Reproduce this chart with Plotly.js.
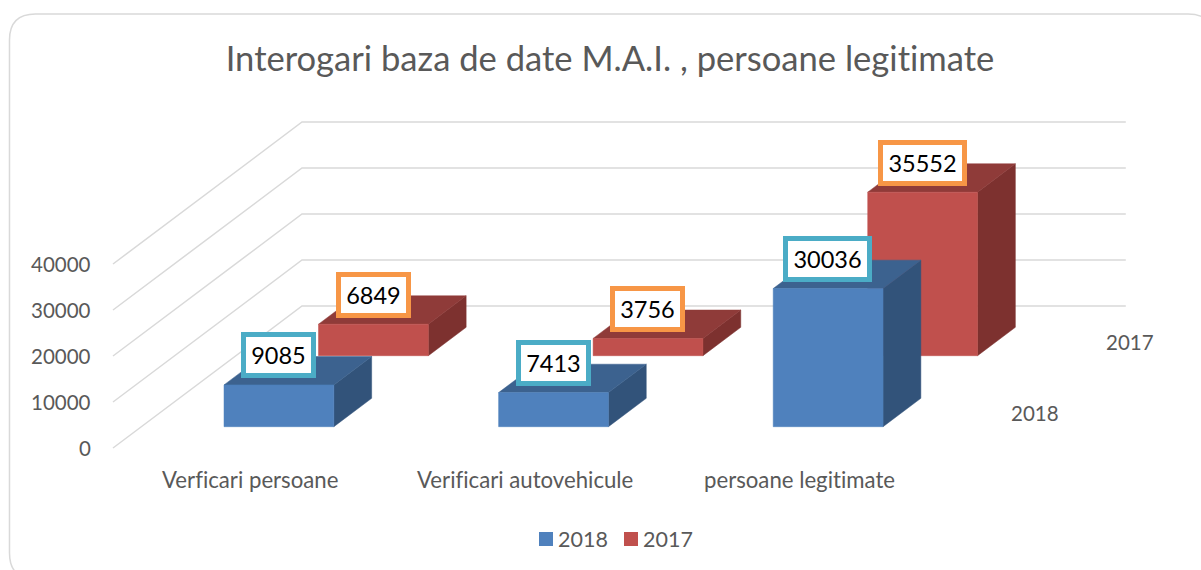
<!DOCTYPE html>
<html><head><meta charset="utf-8">
<script src="https://cdn.plot.ly/plotly-3.0.1.min.js"></script>
<style>html,body{margin:0;padding:0;background:#fff}#c{width:1201px;height:570px}svg text{font-variant-ligatures:none !important;font-feature-settings:"liga" 0,"clig" 0 !important}</style></head>
<body><div id="c"></div>
<script>
var chartTitle = 'Interogari baza de date M.A.I. , persoane legitimate';
var categories = ['Verficari persoane', 'Verificari autovehicule', 'persoane legitimate'];
var seriesNames = ['2018', '2017'];
var values2018 = [9085, 7413, 30036];
var values2017 = [6849, 3756, 35552];
var yTicks = [0, 10000, 20000, 30000, 40000];

// oblique projection, expressed in axis units
var DEPTH_X = 0.6883, DEPTH_Y = 30870, BAR_W = 0.4;
var ROW = [[0.15, 0.35], [0.65, 0.85]];
var ROW_MID = [0.25, 0.75];
function px(cat, d) { return cat + d * DEPTH_X; }
function py(v, d) { return v + d * DEPTH_Y; }

var FONT = 'Lato, Carlito, sans-serif';
var GREY = '#595959';
var traces = [];

// gridlines: side wall + back wall
var gx = [], gy = [];
yTicks.forEach(function (t) {
  gx.push(px(0, 0), px(0, 1), px(3, 1), null);
  gy.push(py(t, 0), py(t, 1), py(t, 1), null);
});
traces.push({x: gx, y: gy, mode: 'lines', line: {color: '#D9D9D9', width: 1.5}, hoverinfo: 'skip', showlegend: false});

function addFace(poly, color, name) {
  traces.push({x: poly.x, y: poly.y, mode: 'lines', fill: 'toself', fillcolor: color,
    line: {color: color, width: 0.5}, hoverinfo: 'skip', showlegend: false, name: name});
}
function addBars(values, row, cols, name) {
  var f = {x: [], y: []}, t = {x: [], y: []}, s = {x: [], y: []};
  var d0 = ROW[row][0], d1 = ROW[row][1];
  values.forEach(function (v, i) {
    var a = i + 0.501 - BAR_W / 2, b = i + 0.501 + BAR_W / 2;
    f.x.push(px(a, d0), px(b, d0), px(b, d0), px(a, d0), px(a, d0), null);
    f.y.push(py(0, d0), py(0, d0), py(v, d0), py(v, d0), py(0, d0), null);
    t.x.push(px(a, d0), px(b, d0), px(b, d1), px(a, d1), px(a, d0), null);
    t.y.push(py(v, d0), py(v, d0), py(v, d1), py(v, d1), py(v, d0), null);
    s.x.push(px(b, d0), px(b, d1), px(b, d1), px(b, d0), px(b, d0), null);
    s.y.push(py(0, d0), py(0, d1), py(v, d1), py(v, d0), py(0, d0), null);
  });
  addFace(s, cols[2], name);
  addFace(t, cols[1], name);
  addFace(f, cols[0], name);
}
addBars(values2017, 1, ['#C0504D', '#8F3B39', '#7D312F'], seriesNames[1]);
addBars(values2018, 0, ['#4F81BD', '#3C628F', '#32537A'], seriesNames[0]);

var ann = [];
// value axis labels
yTicks.forEach(function (t) {
  ann.push({x: px(0, 0), y: py(t, 0), xref: 'x', yref: 'y', text: String(t), showarrow: false,
    xanchor: 'right', yanchor: 'middle', xshift: -20, yshift: 0, font: {family: FONT, size: 20.5, color: GREY}});
});
// category labels
categories.forEach(function (c, i) {
  ann.push({x: px(i + 0.5, 0), y: py(0, 0), xref: 'x', yref: 'y', text: c, showarrow: false,
    xanchor: 'center', yanchor: 'middle', yshift: -31, font: {family: FONT, size: 22.2, color: GREY}});
});
// depth axis labels
seriesNames.forEach(function (n, i) {
  ann.push({x: px(3, ROW_MID[i]), y: py(0, ROW_MID[i]), xref: 'x', yref: 'y', text: n, showarrow: false,
    xanchor: 'center', yanchor: 'middle', xshift: 51, font: {family: FONT, size: 20.5, color: GREY}});
});
// data labels
function addLabels(values, row, border) {
  values.forEach(function (v, i) {
    var s = String(v);
    ann.push({x: px(i + 0.5, ROW[row][0]), y: py(v, ROW[row][0]), xref: 'x', yref: 'y', text: s, showarrow: false,
      xanchor: 'center', yanchor: 'middle', xshift: 0, yshift: 29.5,
      width: s.length > 4 ? 79 : 65, height: 36, align: 'center', valign: 'middle',
      bgcolor: '#FFFFFF', bordercolor: border, borderwidth: 5, borderpad: 0,
      font: {family: FONT, size: 23.5, color: '#000000'}});
  });
}
addLabels(values2017, 1, '#F79646');
addLabels(values2018, 0, '#4BACC6');

// legend
var W = 1201, H = 570;
var legendItems = [{n: seriesNames[0], c: '#4F81BD', x: 539}, {n: seriesNames[1], c: '#C0504D', x: 624}];
var shapes = [];
legendItems.forEach(function (it) {
  shapes.push({type: 'rect', xref: 'paper', yref: 'paper', x0: it.x / W, x1: (it.x + 14) / W,
    y0: 1 - 546 / H, y1: 1 - 532 / H, fillcolor: it.c, line: {width: 0}});
  ann.push({xref: 'paper', yref: 'paper', x: (it.x + 17) / W, y: 1 - 539 / H, text: it.n, showarrow: false,
    xanchor: 'left', yanchor: 'middle', font: {family: FONT, size: 21.5, color: GREY}});
});
// chart frame (runs off the right and bottom of the picture)
function fx(p) { return (p / W).toFixed(5); }
function fy(p) { return (1 - p / H).toFixed(5); }
var L = 9.5, T = 14, R = 1214, B = 579, r = 26;
shapes.push({type: 'path', xref: 'paper', yref: 'paper', layer: 'below', line: {color: '#D9D9D9', width: 1.5},
  path: 'M' + fx(L + r) + ',' + fy(T) + ' L' + fx(R - r) + ',' + fy(T) +
    ' Q' + fx(R) + ',' + fy(T) + ' ' + fx(R) + ',' + fy(T + r) +
    ' L' + fx(R) + ',' + fy(B - r) + ' Q' + fx(R) + ',' + fy(B) + ' ' + fx(R - r) + ',' + fy(B) +
    ' L' + fx(L + r) + ',' + fy(B) + ' Q' + fx(L) + ',' + fy(B) + ' ' + fx(L) + ',' + fy(B - r) +
    ' L' + fx(L) + ',' + fy(T + r) + ' Q' + fx(L) + ',' + fy(T) + ' ' + fx(L + r) + ',' + fy(T) + ' Z'});

var layout = {
  width: W, height: H, margin: {l: 0, r: 0, t: 0, b: 0},
  paper_bgcolor: '#FFFFFF', plot_bgcolor: 'rgba(0,0,0,0)', showlegend: false,
  title: {text: chartTitle, x: 610 / W, xanchor: 'center', y: 1 - 59 / H, yanchor: 'middle',
    font: {family: FONT, size: 34.6, color: GREY}},
  xaxis: {range: [-113 / 274.6, (W - 113) / 274.6], visible: false, fixedrange: true},
  yaxis: {range: [(448 - H) / 0.0046, 448 / 0.0046], visible: false, fixedrange: true},
  annotations: ann, shapes: shapes
};
Plotly.newPlot('c', traces, layout, {displayModeBar: false, staticPlot: true});
</script></body></html>
